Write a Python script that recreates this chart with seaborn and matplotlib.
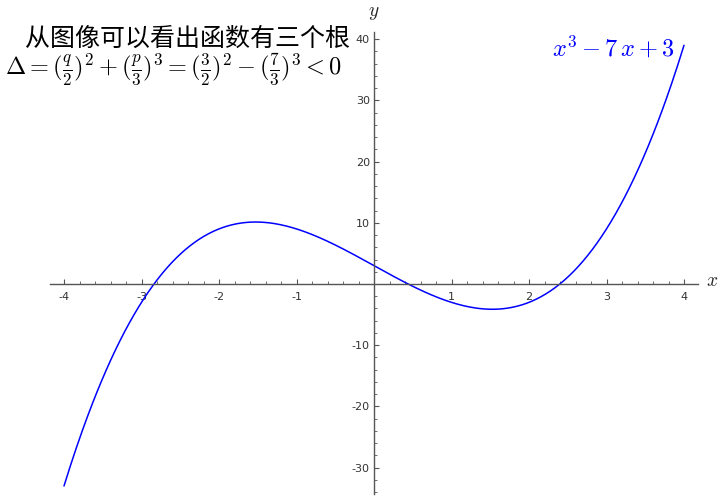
import numpy as np
import pandas as pd
import matplotlib
matplotlib.use("Agg")
import matplotlib.pyplot as plt
import seaborn as sns
from matplotlib.ticker import FixedLocator

# 多项式系数 x^3 - 7x + 3
coeffs = [1, 0, -7, 3]
x_range = [-4, 4]
x_ticks = [-4, -3, -2, -1, 1, 2, 3, 4]
y_ticks = [-30, -20, -10, 10, 20, 30, 40]

title_cn = '从图像可以看出函数有三个根'
delta_txt = r'$\Delta=(\frac{q}{2})^2+(\frac{p}{3})^3=(\frac{3}{2})^2-(\frac{7}{3})^3<0$'
curve_txt = r'$x^3-7\,x+3$'

xs = np.linspace(x_range[0], x_range[1], 400)
df = pd.DataFrame({'x': xs, 'y': np.polyval(coeffs, xs)})

sns.set_theme(style='white')
plt.rcParams['font.family'] = ['DejaVu Sans', 'Noto Sans CJK SC']
plt.rcParams['mathtext.fontset'] = 'cm'
plt.rcParams['axes.unicode_minus'] = False

fig = plt.figure(figsize=(7.2, 4.98), dpi=100)
ax = fig.add_axes([0, 0, 1, 1])

sns.lineplot(data=df, x='x', y='y', color='#0000ff', linewidth=1.1, ax=ax)

# 像素换算: x 轴 77.5 px/单位, 原点在 (374, 284)
ax.set_xlim(-374 / 77.5, (720 - 374) / 77.5)
ax.set_ylim(-214 / 6.12, 284 / 6.12)

for s in ['top', 'right']:
    ax.spines[s].set_visible(False)
ax.spines['bottom'].set_position(('data', 0))
ax.spines['left'].set_position(('data', 0))
ax.spines['bottom'].set_bounds(-4.18, 4.18)
ax.spines['left'].set_bounds(-34.3, 41.2)
for s in ['bottom', 'left']:
    ax.spines[s].set_color('#555555')
    ax.spines[s].set_linewidth(1.0)

ax.set_xticks(x_ticks)
ax.set_yticks(y_ticks)
ax.xaxis.set_minor_locator(FixedLocator(np.arange(-20, 21) / 5))
ax.yaxis.set_minor_locator(FixedLocator(np.arange(-34, 41, 2)))
ax.tick_params(which='both', direction='in', colors='#555555', labelcolor='#333333',
               labelsize=8, bottom=True, left=True)
ax.tick_params(which='major', length=3.5, width=0.8, pad=6)
ax.tick_params(which='minor', length=2, width=0.6)
ax.tick_params(axis='y', which='major', pad=3)
ax.set_xlabel('')
ax.set_ylabel('')

ax.text(712 / 720, 1 - 280 / 498, r'$x$', transform=ax.transAxes, fontsize=14,
        ha='center', va='center')
ax.text(374 / 720, 1 - 12 / 498, r'$y$', transform=ax.transAxes, fontsize=14,
        ha='center', va='center')

fig.text(25 / 720, 1 - 38.5 / 498, title_cn, fontsize=18, ha='left', va='center',
         family=['Noto Sans CJK SC'], weight='medium', color='black')
fig.text(5 / 720, 1 - 69.5 / 498, delta_txt, fontsize=17.5, ha='left', va='center',
         color='black')
fig.text(675 / 720, 1 - 48 / 498, curve_txt, fontsize=17.5, ha='right', va='center',
         color='#0000ff')

plt.savefig('out.png', dpi=100)
plt.close()
